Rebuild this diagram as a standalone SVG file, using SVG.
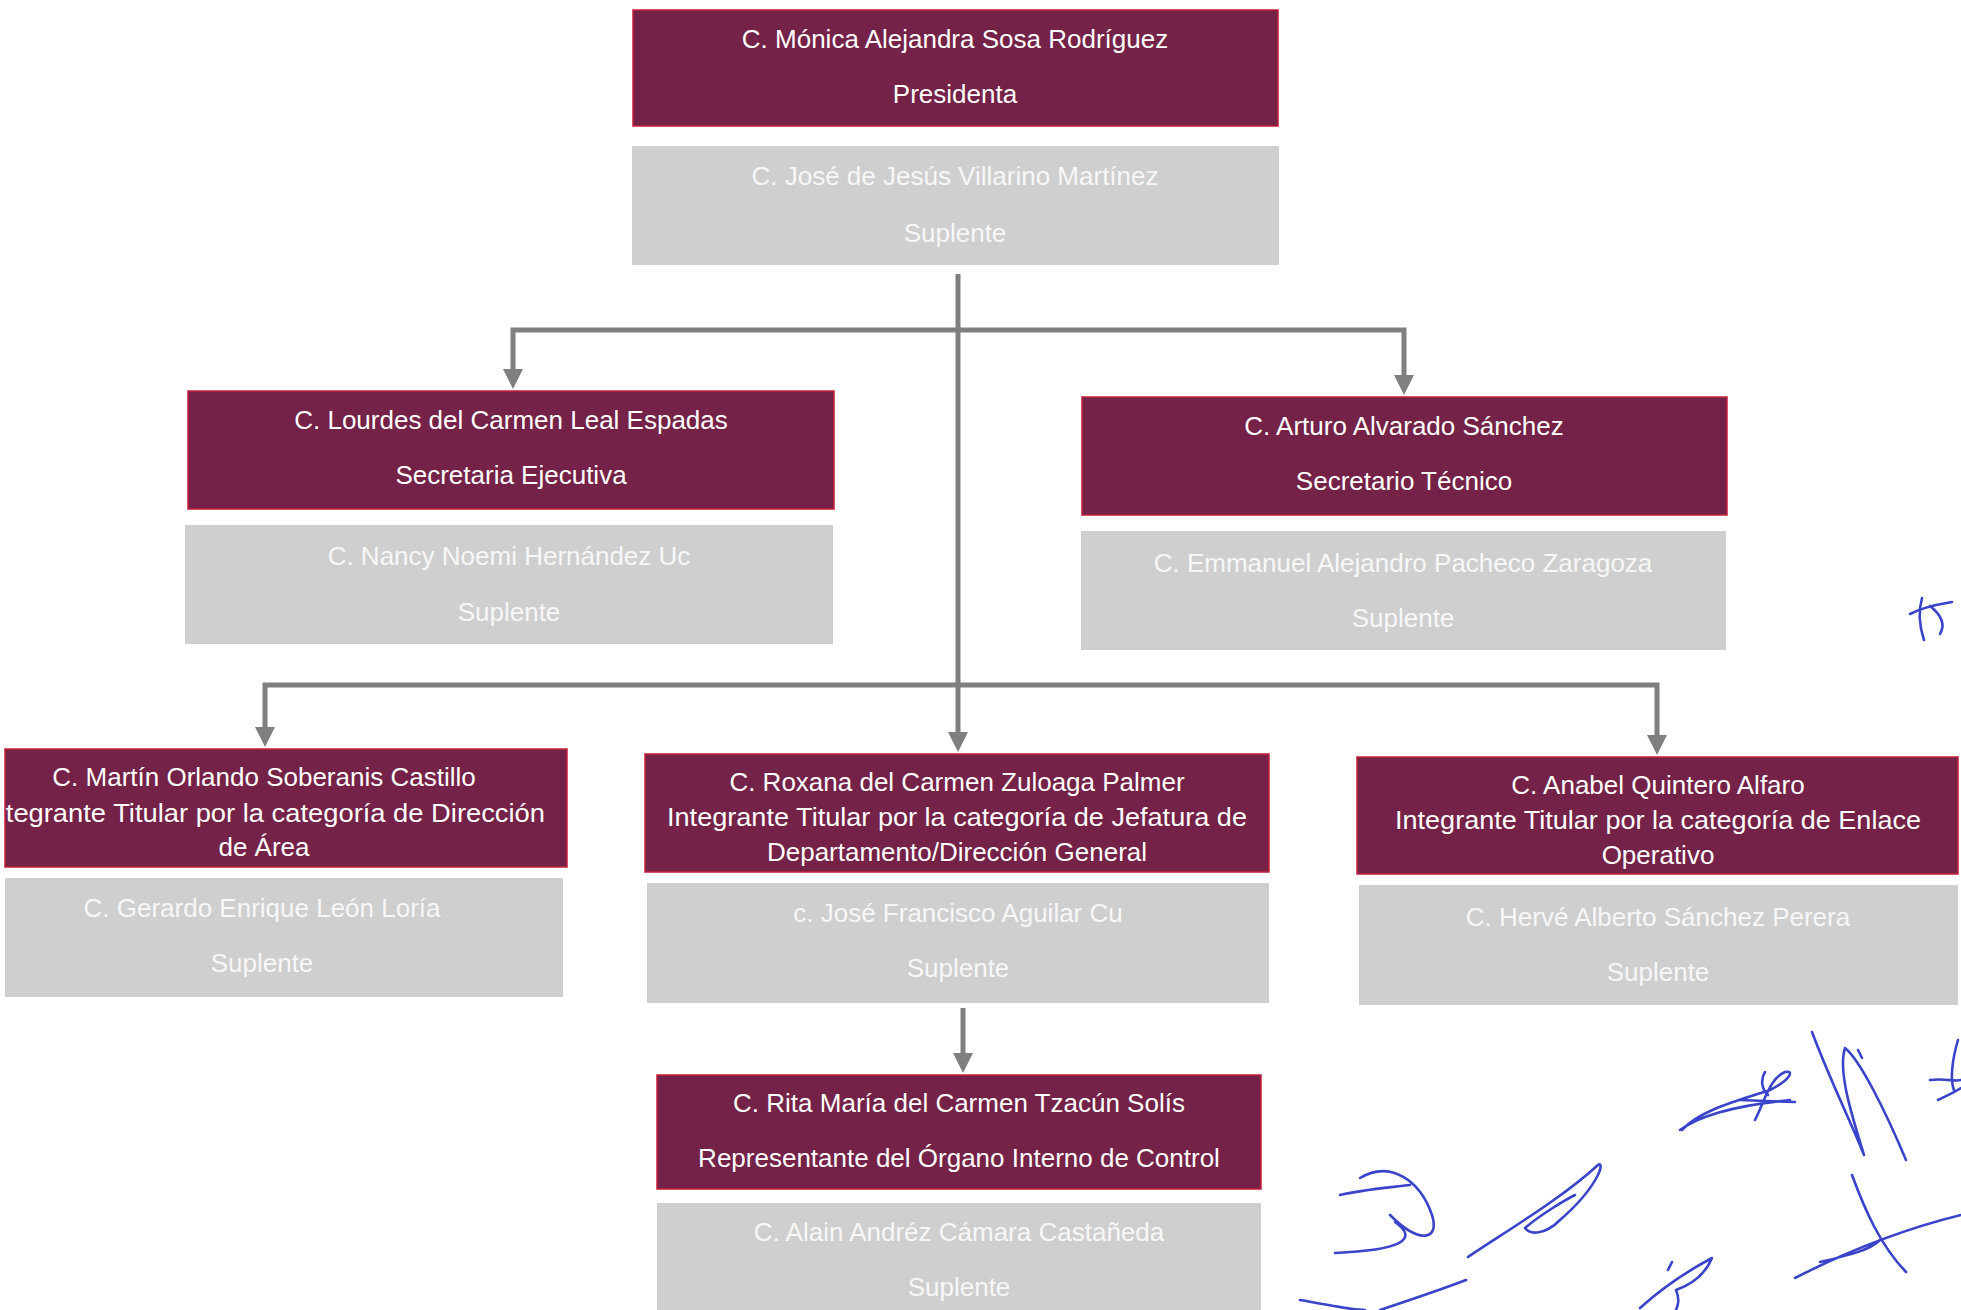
<svg xmlns="http://www.w3.org/2000/svg" width="1961" height="1310" viewBox="0 0 1961 1310">
<style>
  .tit { fill: #742247; stroke: #c41e3a; stroke-width: 1.5; }
  .sup { fill: #cfcfcf; stroke: none; }
  text { font-family: "Liberation Sans", Arial, sans-serif; font-size: 26px; text-anchor: middle; dominant-baseline: central; }
  .tt { fill: #ffffff; }
  .st { fill: #f7f7f7; }
  .conn { fill: none; stroke: #7f7f7f; stroke-width: 5; marker-end: url(#arrow); }
  .sig { fill: none; stroke: #3a44c8; stroke-width: 2.6; stroke-linecap: round; stroke-linejoin: round; }
</style>
<defs>
  <marker id="arrow" markerUnits="userSpaceOnUse" markerWidth="20" markerHeight="20" viewBox="0 0 20 20" refX="0" refY="10" orient="auto">
    <path d="M0,0 L20,10 L0,20 z" fill="#7f7f7f"/>
  </marker>
  <clipPath id="clipMartin"><rect x="5" y="747" width="562" height="120"/></clipPath>
  <clipPath id="clipRoxana"><rect x="645" y="752" width="624" height="120"/></clipPath>
  <clipPath id="clipAnabel"><rect x="1357" y="755" width="601" height="119"/></clipPath>
</defs>
<rect width="1961" height="1310" fill="#ffffff"/>

<g id="connectors">
  <path class="conn" d="M958,274 V732"/>
  <path class="conn" d="M958,330 H513 V369"/>
  <path class="conn" d="M958,330 H1404 V375"/>
  <path class="conn" d="M958,685 H265 V727"/>
  <path class="conn" d="M958,685 H1657 V735"/>
  <path class="conn" d="M963,1008 V1053"/>
</g>

<g id="presidenta">
  <rect class="tit" x="633" y="10" width="645" height="116"/>
  <text class="tt" x="955" y="39">C. Mónica Alejandra Sosa Rodríguez</text>
  <text class="tt" x="955" y="94">Presidenta</text>
</g>
<g id="presidenta-suplente">
  <rect class="sup" x="632" y="146" width="647" height="119"/>
  <text class="st" x="955" y="176">C. José de Jesús Villarino Martínez</text>
  <text class="st" x="955" y="233">Suplente</text>
</g>

<g id="secretaria-ejecutiva">
  <rect class="tit" x="188" y="391" width="646" height="118"/>
  <text class="tt" x="511" y="420">C. Lourdes del Carmen Leal Espadas</text>
  <text class="tt" x="511" y="475">Secretaria Ejecutiva</text>
</g>
<g id="secretaria-ejecutiva-suplente">
  <rect class="sup" x="185" y="525" width="648" height="119"/>
  <text class="st" x="509" y="556">C. Nancy Noemi Hernández Uc</text>
  <text class="st" x="509" y="612">Suplente</text>
</g>

<g id="secretario-tecnico">
  <rect class="tit" x="1082" y="397" width="645" height="118"/>
  <text class="tt" x="1404" y="426">C. Arturo Alvarado Sánchez</text>
  <text class="tt" x="1404" y="481">Secretario Técnico</text>
</g>
<g id="secretario-tecnico-suplente">
  <rect class="sup" x="1081" y="531" width="645" height="119"/>
  <text class="st" x="1403" y="563">C. Emmanuel Alejandro Pacheco Zaragoza</text>
  <text class="st" x="1403" y="618">Suplente</text>
</g>

<g id="direccion-area">
  <rect class="tit" x="5" y="749" width="562" height="118"/>
  <g clip-path="url(#clipMartin)">
    <text class="tt" x="264" y="777">C. Martín Orlando Soberanis Castillo</text>
    <text class="tt" x="264" y="813" textLength="562" lengthAdjust="spacingAndGlyphs">Integrante Titular por la categoría de Dirección</text>
    <text class="tt" x="264" y="847">de Área</text>
  </g>
</g>
<g id="direccion-area-suplente">
  <rect class="sup" x="5" y="878" width="558" height="119"/>
  <text class="st" x="262" y="908">C. Gerardo Enrique León Loría</text>
  <text class="st" x="262" y="963">Suplente</text>
</g>

<g id="jefatura-departamento">
  <rect class="tit" x="645" y="754" width="624" height="118"/>
  <g clip-path="url(#clipRoxana)">
    <text class="tt" x="957" y="782">C. Roxana del Carmen Zuloaga Palmer</text>
    <text class="tt" x="957" y="817" textLength="580" lengthAdjust="spacingAndGlyphs">Integrante Titular por la categoría de Jefatura de</text>
    <text class="tt" x="957" y="852">Departamento/Dirección General</text>
  </g>
</g>
<g id="jefatura-departamento-suplente">
  <rect class="sup" x="647" y="883" width="622" height="120"/>
  <text class="st" x="958" y="913">c. José Francisco Aguilar Cu</text>
  <text class="st" x="958" y="968">Suplente</text>
</g>

<g id="enlace-operativo">
  <rect class="tit" x="1357" y="757" width="601" height="117"/>
  <g clip-path="url(#clipAnabel)">
    <text class="tt" x="1658" y="785">C. Anabel Quintero Alfaro</text>
    <text class="tt" x="1658" y="820" textLength="526" lengthAdjust="spacingAndGlyphs">Integrante Titular por la categoría de Enlace</text>
    <text class="tt" x="1658" y="855">Operativo</text>
  </g>
</g>
<g id="enlace-operativo-suplente">
  <rect class="sup" x="1359" y="885" width="599" height="120"/>
  <text class="st" x="1658" y="917">C. Hervé Alberto Sánchez Perera</text>
  <text class="st" x="1658" y="972">Suplente</text>
</g>

<g id="organo-interno-control">
  <rect class="tit" x="657" y="1075" width="604" height="114"/>
  <text class="tt" x="959" y="1103">C. Rita María del Carmen Tzacún Solís</text>
  <text class="tt" x="959" y="1158">Representante del Órgano Interno de Control</text>
</g>
<g id="organo-interno-control-suplente">
  <rect class="sup" x="657" y="1203" width="604" height="107"/>
  <text class="st" x="959" y="1232">C. Alain Andréz Cámara Castañeda</text>
  <text class="st" x="959" y="1287">Suplente</text>
</g>

<g id="signatures">
  <path class="sig" d="M1910,614 C1925,606 1940,604 1952,602 M1922,598 C1918,612 1920,628 1924,640 M1930,606 C1940,614 1946,624 1940,634"/>
  <path class="sig" d="M1340,1195 C1360,1190 1385,1188 1410,1185 M1360,1178 C1390,1160 1420,1180 1432,1215 C1440,1240 1420,1245 1390,1215 M1395,1222 C1420,1240 1400,1250 1335,1253"/>
  <path class="sig" d="M1468,1257 C1500,1235 1560,1200 1598,1165 C1605,1160 1600,1185 1560,1220 C1545,1235 1530,1235 1525,1228 C1540,1215 1565,1200 1575,1195"/>
  <path class="sig" d="M1300,1300 C1330,1305 1350,1310 1365,1310 M1380,1310 C1410,1300 1440,1290 1466,1280" stroke-width="3.2"/>
  <path class="sig" d="M1640,1308 C1660,1290 1680,1275 1712,1258 C1705,1275 1690,1285 1676,1290 C1680,1300 1678,1305 1676,1310 M1668,1270 L1672,1262"/>
  <path class="sig" d="M1680,1130 C1700,1115 1740,1105 1790,1100 M1682,1130 C1700,1110 1740,1100 1770,1090 C1790,1080 1795,1070 1785,1072 C1770,1078 1765,1100 1755,1120 M1765,1072 C1760,1080 1762,1090 1768,1095 M1740,1100 L1795,1102"/>
  <path class="sig" d="M1812,1032 C1830,1080 1850,1120 1864,1155 M1864,1155 C1850,1110 1838,1070 1845,1048 C1860,1060 1885,1110 1906,1160 M1858,1050 L1862,1058"/>
  <path class="sig" d="M1958,1040 C1952,1060 1950,1080 1954,1090 M1930,1080 C1945,1078 1955,1082 1961,1080 M1938,1100 C1948,1095 1955,1092 1961,1088"/>
  <path class="sig" d="M1852,1175 C1865,1210 1880,1245 1906,1272 M1795,1278 C1840,1255 1900,1230 1961,1215 M1820,1262 C1850,1255 1870,1250 1880,1240"/>
</g>
</svg>
